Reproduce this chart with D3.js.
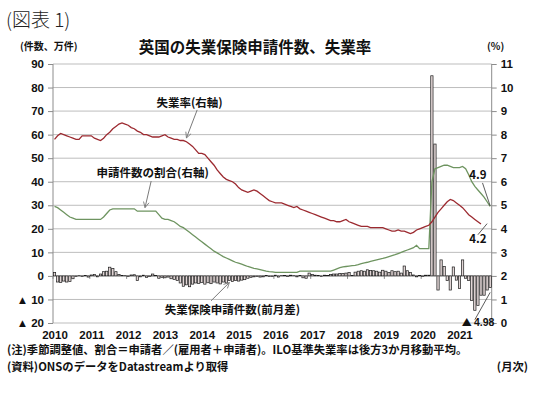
<!DOCTYPE html>
<html><head><meta charset="utf-8">
<script src="https://cdn.jsdelivr.net/npm/d3@7"></script>
<style>
body{margin:0;background:#fff;}
svg{display:block;}
.cjk{font-family:"Noto Sans CJK JP","Noto Sans",sans-serif;}
.num{font-family:"Liberation Sans",Arial,sans-serif;font-weight:bold;}
</style>
</head><body>
<svg id="c" width="540" height="395"></svg>
<script>
// ===== data =====
const startYear = 2010;
const monthCount = 143; // Jan 2010 - Nov 2021
const yearLabels = ["2010","2011","2012","2013","2014","2015","2016","2017","2018","2019","2020","2021"];
const leftTicks = [90,80,70,60,50,40,30,20,10,0,-10,-20];
const leftTickLabels = ["90","80","70","60","50","40","30","20","10","0","▲ 10","▲ 20"];
const rightTicks = [11,10,9,8,7,6,5,4,3,2,1,0];
const rightTickLabels = ["11","10","9","8","7","6","5","4","3","2","1","0"];

// claimant count, change from previous month (10k persons)
const claimChange = [
 1.5,-2.6,-2.8,-2.2,-2.6,-2.4,-1.2,-0.3,0.1,-0.2,0.2,-0.5,
 0.4,0.6,-0.4,0.8,1.8,2.0,3.7,3.2,1.8,0.6,0.2,0.1,
 -0.3,0.4,0.5,-2.0,-0.4,0.3,-0.6,-0.2,0.8,0.2,-1.0,-0.6,
 -0.8,-0.5,-1.2,-1.5,-2.0,-3.0,-4.4,-3.8,-4.6,-3.5,-3.0,-3.2,
 -2.8,-3.5,-2.9,-3.3,-2.6,-3.0,-3.4,-2.6,-3.0,-2.0,-2.4,-2.0,
 -2.2,-1.8,-1.6,-1.0,-0.6,-0.4,-0.3,-0.5,-0.4,0.2,-0.3,-0.2,
 0.3,-0.5,0.1,0.2,-0.3,0.3,0.1,-0.4,0.2,-0.8,-1.0,1.2,
 0.6,0.3,0.2,-0.2,0.3,0.2,0.6,0.8,0.8,1.0,1.0,1.2,
 1.4,0.2,1.6,2.0,2.2,2.0,2.6,2.3,2.2,2.0,1.6,2.4,
 2.0,1.4,2.2,1.8,2.0,1.2,4.2,2.2,1.4,0.4,-0.4,0.2,
 -0.3,0.3,0.3,85.0,56.0,-6.0,6.8,4.0,-2.0,-6.0,3.8,-1.8,
 -5.3,6.8,-1.0,-2.0,-10.4,-14.6,-12.5,-8.2,-8.2,-6.0,-4.98
];
// ILO unemployment rate, 3-month moving average (%)
const unempRate = [
 7.8,7.95,8.05,8.0,7.95,7.9,7.85,7.8,7.8,7.95,7.95,7.95,
 7.95,7.85,7.8,7.75,7.85,8.0,8.1,8.25,8.35,8.45,8.5,8.45,
 8.4,8.3,8.25,8.15,8.1,8.0,8.0,7.95,7.9,7.9,7.9,7.95,
 8.0,7.9,7.85,7.8,7.8,7.75,7.75,7.7,7.6,7.5,7.35,7.2,
 7.2,7.15,7.0,6.85,6.7,6.5,6.35,6.2,6.1,6.05,6.0,5.9,
 5.75,5.65,5.6,5.55,5.6,5.65,5.6,5.5,5.4,5.3,5.2,5.15,
 5.1,5.1,5.1,5.05,5.0,4.95,4.9,4.95,4.85,4.8,4.75,4.7,
 4.65,4.6,4.55,4.5,4.45,4.4,4.35,4.35,4.3,4.3,4.35,4.4,
 4.3,4.25,4.2,4.15,4.1,4.1,4.1,4.05,4.05,4.05,4.05,4.05,
 4.0,3.95,3.9,3.9,3.95,3.9,3.9,3.85,3.8,3.85,3.95,4.0,
 4.05,4.1,4.15,4.3,4.5,4.7,4.85,5.0,5.15,5.25,5.2,5.1,
 5.0,4.9,4.75,4.6,4.5,4.4,4.3,4.2
];
// claimant share = claimants / (employees + claimants) (%)
const claimShare = [
 4.95,4.9,4.8,4.7,4.6,4.5,4.45,4.4,4.4,4.4,4.4,4.4,
 4.4,4.4,4.4,4.4,4.5,4.65,4.8,4.85,4.85,4.85,4.85,4.85,
 4.85,4.85,4.85,4.75,4.75,4.75,4.75,4.75,4.75,4.75,4.6,4.45,
 4.4,4.4,4.35,4.3,4.2,4.1,4.05,3.95,3.85,3.75,3.65,3.55,
 3.45,3.35,3.25,3.15,3.05,2.98,2.9,2.82,2.76,2.7,2.64,2.58,
 2.54,2.5,2.45,2.4,2.36,2.32,2.3,2.27,2.24,2.2,2.18,2.17,
 2.15,2.15,2.15,2.15,2.15,2.15,2.15,2.15,2.2,2.2,2.2,2.2,
 2.2,2.2,2.2,2.2,2.2,2.2,2.2,2.25,2.3,2.35,2.38,2.4,
 2.42,2.44,2.45,2.48,2.52,2.55,2.58,2.62,2.65,2.68,2.71,2.74,
 2.78,2.82,2.86,2.9,2.95,3.0,3.05,3.1,3.15,3.2,3.3,3.16,
 3.16,3.16,3.16,6.0,6.55,6.6,6.65,6.7,6.7,6.65,6.6,6.6,
 6.6,6.65,6.55,6.3,6.0,5.8,5.65,5.5,5.35,5.15,4.95
];

// ===== drawing =====
const svg = d3.select("#c");
const L = 53, R = 491.7, T = 64, B = 323;
const months = d3.range(monthCount);
const x = d3.scaleBand().domain(months).range([L, R]).paddingInner(0.25).paddingOuter(0.12);
const step = x.step();
const xc = m => x(m) + x.bandwidth()/2;
const xm = m => xc(0) + m * step;          // continuous month position (for annotations)
const xEdge = m => L + m * step;          // boundary before month m
const yL = d3.scaleLinear().domain([-20, 90]).range([B, T]);
const yR = d3.scaleLinear().domain([0, 11]).range([B, T]);

const GRID = "#bdbdbd";
// gridlines
svg.append("g").selectAll("line").data(leftTicks).join("line")
  .attr("x1", L).attr("x2", R)
  .attr("y1", d => yL(d)).attr("y2", d => yL(d))
  .attr("stroke", GRID).attr("stroke-width", 1);

// axes lines
svg.append("line").attr("x1", L).attr("x2", L).attr("y1", T).attr("y2", B).attr("stroke", "#8c8c8c");
svg.append("line").attr("x1", R).attr("x2", R).attr("y1", T).attr("y2", B).attr("stroke", "#8c8c8c");

// left axis
const la = d3.axisLeft(yL).tickValues(leftTicks).tickSize(5).tickPadding(4)
  .tickFormat(d => leftTickLabels[leftTicks.indexOf(d)]);
const lg = svg.append("g").attr("transform", `translate(${L},0)`).call(la);
lg.select(".domain").remove();
lg.selectAll(".tick line").attr("stroke", "#8c8c8c");
lg.selectAll("text").attr("class","num").attr("font-size", 11.5).attr("fill", "#111");

// right axis
const ra = d3.axisRight(yR).tickValues(rightTicks).tickSize(5).tickPadding(4)
  .tickFormat(d => rightTickLabels[rightTicks.indexOf(d)]);
const rg = svg.append("g").attr("transform", `translate(${R},0)`).call(ra);
rg.select(".domain").remove();
rg.selectAll(".tick line").attr("stroke", "#8c8c8c");
rg.selectAll("text").attr("class","num").attr("font-size", 11.5).attr("fill", "#111");

// year tick marks on zero line
svg.append("g").selectAll("line").data(yearLabels).join("line")
  .attr("x1", (d,i) => xEdge(i*12)).attr("x2", (d,i) => xEdge(i*12))
  .attr("y1", yL(0)).attr("y2", yL(0) + 3)
  .attr("stroke", "#8c8c8c");
// year labels
svg.append("g").selectAll("text").data(yearLabels).join("text")
  .attr("class","num").attr("font-size", 11.5).attr("fill", "#111")
  .attr("text-anchor", "middle")
  .attr("x", (d,i) => xEdge(i*12) + 2)
  .attr("y", B + 15.5)
  .text(d => d);

// bars
svg.append("g").selectAll("rect").data(claimChange).join("rect")
  .attr("x", (d,i) => x(i))
  .attr("width", x.bandwidth())
  .attr("y", d => yL(Math.max(0, d)))
  .attr("height", d => Math.abs(yL(d) - yL(0)))
  .attr("fill", "#e2d6d6")
  .attr("stroke", "#1a1a1a").attr("stroke-width", 0.7);

// lines
const lineR = d3.line().x((d,i) => xc(i)).y(d => yR(d));
svg.append("path").datum(claimShare).attr("d", lineR)
  .attr("fill", "none").attr("stroke", "#6e9460").attr("stroke-width", 1.3);
svg.append("path").datum(unempRate).attr("d", lineR)
  .attr("fill", "none").attr("stroke", "#9c2a30").attr("stroke-width", 1.3);

// ===== texts =====
svg.append("text").attr("class","cjk").attr("x", 6).attr("y", 27)
  .attr("font-size", 19).attr("font-weight", 300).attr("fill", "#222").text("(図表 1)");
svg.append("text").attr("class","cjk").attr("x", 255).attr("y", 53)
  .attr("text-anchor","middle").attr("font-size", 15.5).attr("font-weight", "bold").attr("fill","#111")
  .text("英国の失業保険申請件数、失業率");
svg.append("text").attr("class","cjk").attr("x", 20).attr("y", 50)
  .attr("font-size", 10).attr("font-weight", "bold").attr("fill","#111").text("(件数、万件)");
svg.append("text").attr("class","cjk").attr("x", 487).attr("y", 50)
  .attr("font-size", 10).attr("font-weight", "bold").attr("fill","#111").text("(%)");
svg.append("text").attr("class","cjk").attr("x", 7).attr("y", 354)
  .attr("font-size", 11.3).attr("font-weight", "bold").attr("fill","#111")
  .text("(注)季節調整値、割合＝申請者／(雇用者＋申請者)。ILO基準失業率は後方3か月移動平均。");
svg.append("text").attr("class","cjk").attr("x", 7).attr("y", 371)
  .attr("font-size", 11.3).attr("font-weight", "bold").attr("fill","#111")
  .text("(資料)ONSのデータをDatastreamより取得");
svg.append("text").attr("class","cjk").attr("x", 528).attr("y", 371)
  .attr("text-anchor","end")
  .attr("font-size", 11.3).attr("font-weight", "bold").attr("fill","#111")
  .text("(月次)");

// ===== annotations =====
const defs = svg.append("defs");
defs.append("marker").attr("id","ah").attr("viewBox","0 0 10 10").attr("refX",9).attr("refY",5)
  .attr("markerWidth",7).attr("markerHeight",7).attr("orient","auto-start-reverse")
  .append("path").attr("d","M1,1 L9,5 L1,9").attr("fill","none").attr("stroke","#7a7a7a").attr("stroke-width",1.2);

function note(txt, tx, ty, ax1, ay1, ax2, ay2, arrow, size, anchor) {
  svg.append("line").attr("x1", ax1).attr("y1", ay1).attr("x2", ax2).attr("y2", ay2)
    .attr("stroke", arrow ? "#7a7a7a" : "#333").attr("stroke-width", arrow ? 1 : 0.8)
    .attr("marker-end", arrow ? "url(#ah)" : null);
  return svg.append("text").attr("class","cjk").attr("x", tx).attr("y", ty)
    .attr("text-anchor", anchor || "middle")
    .attr("font-size", size).attr("font-weight","bold").attr("fill","#111").text(txt);
}
// unemployment rate label
note("失業率(右軸)", xm(44), yR(9.17), xm(46.5), yR(9.05), xm(43), yR(7.86), true, 11.5);
// claimant share label
note("申請件数の割合(右軸)", xm(32), yR(6.2), xm(31.5), yR(6.03), xm(29.5), yR(4.9), true, 11.5);
// claimant change label
note("失業保険申請件数(前月差)", xm(58), yL(-16.3), xm(51), yL(-10.6), xm(57), yL(-2.8), true, 11.5);
// end values
note("4.9", xm(138), yR(6.1), xm(139.5), yR(5.95), xm(142), yR(4.97), false, 11.5);
note("4.2", xm(138), yR(3.4), xm(138), yR(3.75), xm(141), yR(4.22), false, 11.5);
// last value (▲ marks a negative number)
svg.append("line").attr("x1", xm(137)).attr("y1", yL(-18.6)).attr("x2", xm(142)).attr("y2", yL(-7.0))
  .attr("stroke", "#333").attr("stroke-width", 0.8);
const lastNote = svg.append("text").attr("y", yL(-20) + 2.5).attr("fill", "#111").attr("font-weight","bold");
lastNote.append("tspan").attr("class","cjk").attr("x", xm(132.7)).attr("font-size", 10).text("▲");
lastNote.append("tspan").attr("class","num").attr("x", xm(136.7)).attr("font-size", 10.5).text("4.98");
</script>
</body></html>
